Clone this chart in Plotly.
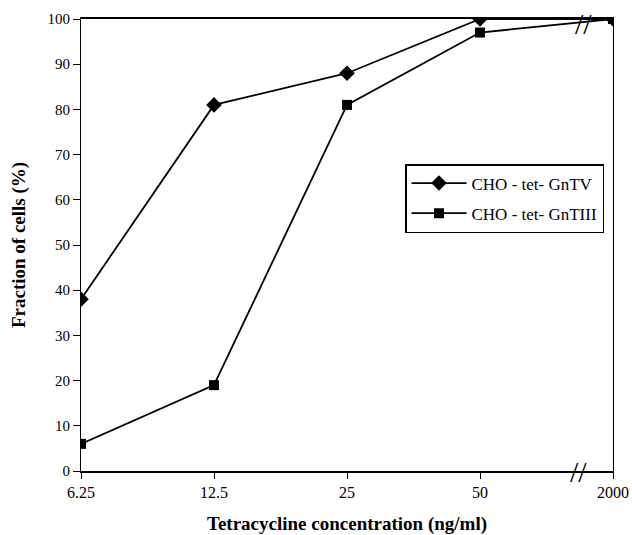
import plotly.graph_objects as go

categories = ["6.25", "12.5", "25", "50", "2000"]
gntv = [38, 81, 88, 100, 100]
gntiii = [6, 19, 81, 97, 100]
y_ticks = [0, 10, 20, 30, 40, 50, 60, 70, 80, 90, 100]

xpos = list(range(len(categories)))
font = "Liberation Serif, Times New Roman, serif"

fig = go.Figure()
fig.add_trace(go.Scatter(x=xpos, y=gntv, mode="lines+markers", name="CHO - tet- GnTV",
                         legendgroup="a",
                         line=dict(color="black", width=1.8),
                         marker=dict(symbol="diamond", size=12, color="black")))
fig.add_trace(go.Scatter(x=xpos, y=gntiii, mode="lines+markers", name="CHO - tet- GnTIII",
                         legendgroup="b",
                         line=dict(color="black", width=1.8),
                         marker=dict(symbol="square", size=10, color="black")))

fig.update_layout(
    width=632, height=535,
    margin=dict(l=81, r=19, t=19, b=64, autoexpand=False),
    plot_bgcolor="white", paper_bgcolor="white",
    font=dict(family=font, size=15, color="black"),
    legend=dict(x=(405 - 81) / 532, y=(471 - 164) / 452, xanchor="left", yanchor="top",
                bordercolor="black", borderwidth=1.5, bgcolor="white",
                font=dict(family=font, size=17), tracegroupgap=5,
                itemwidth=55),
    showlegend=True,
)
fig.update_xaxes(range=[0, 4], tickvals=xpos, ticktext=categories,
                 showgrid=False, zeroline=False, showline=True, linecolor="black",
                 linewidth=1.8, mirror=True, ticks="outside", ticklen=6, tickcolor="black",
                 tickfont=dict(size=16), automargin=False, ticklabeloverflow="allow",
                 title=dict(text="<b>Tetracycline concentration (ng/ml)</b>",
                            font=dict(family=font, size=19), standoff=26))
fig.update_yaxes(range=[0, 100], tickvals=y_ticks,
                 showgrid=False, zeroline=False, showline=True, linecolor="black",
                 linewidth=1.2, mirror=True, ticks="outside", ticklen=7, tickcolor="black",
                 tickfont=dict(size=15), automargin=False,
                 title=dict(text="<b>Fraction of cells (%)</b>",
                            font=dict(family=font, size=19), standoff=16))

# axis break marks
fig.add_annotation(x=3.74, y=0, xref="x", yref="y", text="//", showarrow=False,
                   font=dict(family=font, size=30, color="black"))
fig.add_annotation(x=3.78, y=99, xref="x", yref="y", text="//", showarrow=False,
                   font=dict(family=font, size=30, color="black"))

fig.write_html("out.html", config={"displayModeBar": False},
               post_script="document.body.style.margin='0';document.body.style.overflow='hidden';")
